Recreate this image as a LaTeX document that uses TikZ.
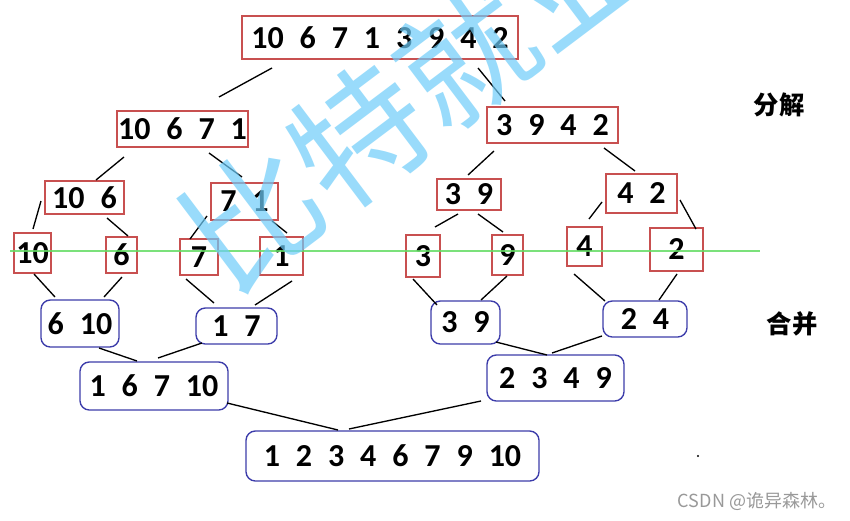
\documentclass[tikz,border=0pt]{standalone}
\usepackage{fontspec}
\usetikzlibrary{calc}

\newfontfamily\numfont{Carlito}[WordSpace=2.2]
\newfontfamily\cjk{Noto Sans CJK SC}

\definecolor{splitred}{RGB}{200,80,80}
\definecolor{mergeblue}{RGB}{60,60,170}
\definecolor{cutgreen}{RGB}{100,220,100}
\definecolor{wmblue}{RGB}{110,205,250}

\begin{document}
\begin{tikzpicture}[x=0.75pt, y=-0.75pt]

		\tikzstyle{split} = [draw=splitred, line width=1pt, inner sep=0pt, font=\numfont\bfseries\fontsize{24}{28}\selectfont]
		\tikzstyle{merge} = [draw=mergeblue, line width=1pt, rounded corners=7pt, inner sep=0pt, font=\numfont\bfseries\fontsize{24}{28}\selectfont]
		\tikzstyle{link} = [line width=1pt]
		\tikzset{wh/.style 2 args={minimum width=#1*0.75pt, minimum height=#2*0.75pt}}

		\path[use as bounding box, fill=white] (0,0) rectangle (850,521);

		% split
		\node[split, wh={276}{43}](s0) at (380,37.5){10 6 7 1 3 9 4 2};
		\node[split, wh={131}{36}](sL) at (182.5,129){10 6 7 1};
		\node[split, wh={131}{36}](sR) at (552.5,125){3 9 4 2};
		\node[split, wh={79}{33}](sLL) at (84.5,197.5){10 6};
		\node[split, wh={67}{37}](sLR) at (244.5,201.5){7 1};
		\node[split, wh={64}{31}](sRL) at (469,194.5){3 9};
		\node[split, wh={71}{39}](sRR) at (641.5,193.5){4 2};

		\node[split, wh={37}{40}](a1) at (32.5,253){10};
		\node[split, wh={31}{36}](a2) at (121.5,255){6};
		\node[split, wh={38}{36}](a3) at (199,257){7};
		\node[split, wh={43}{38}](a4) at (281.5,256){1};
		\node[split, wh={34}{42}](a5) at (423,256){3};
		\node[split, wh={31}{40}](a6) at (507.5,255){9};
		\node[split, wh={35}{39}](a7) at (584.5,246.5){4};
		\node[split, wh={53}{43}](a8) at (676.5,249.5){2};

		% merge
		\node[merge, wh={78}{47}](m1) at (80,323.5){6 10};
		\node[merge, wh={81}{36}](m2) at (236.5,326){1 7};
		\node[merge, wh={69}{43}](m3) at (465.5,322.5){3 9};
		\node[merge, wh={84}{36}](m4) at (645,319){2 4};
		\node[merge, wh={148}{48}](mL) at (154,386){1 6 7 10};
		\node[merge, wh={137}{46}](mR) at (555.5,378){2 3 4 9};
		\node[merge, wh={293}{50}](fin) at (392.5,456){1 2 3 4 6 7 9 10};

		\draw[link] ([shift={(-108,30.5)}]s0.center) -- ([shift={(36.5,-32)}]sL.center);
		\draw[link] ([shift={(98,30.5)}]s0.center) -- ([shift={(-47.5,-24)}]sR.center);
		\draw[link] ([shift={(-58.5,28)}]sL.center) -- ([shift={(11.5,-17.5)}]sLL.center);
		\draw[link] ([shift={(26.5,24)}]sL.center) -- ([shift={(-2.5,-24.5)}]sLR.center);
		\draw[link] ([shift={(-58.5,26)}]sR.center) -- ([shift={(-1,-19.5)}]sRL.center);
		\draw[link] ([shift={(51.5,23)}]sR.center) -- ([shift={(-6.5,-22.5)}]sRR.center);
		\draw[link] ([shift={(-43.5,3.5)}]sLL.center) -- ([shift={(0.5,-24)}]a1.center);
		\draw[link] ([shift={(22.5,20.5)}]sLL.center) -- ([shift={(6.5,-19)}]a2.center);
		\draw[link] ([shift={(-37.5,14.5)}]sLR.center) -- ([shift={(-9,-18)}]a3.center);
		\draw[link] ([shift={(27.5,19.5)}]sLR.center) -- ([shift={(5.5,-23)}]a4.center);
		\draw[link] ([shift={(-11,19.5)}]sRL.center) -- ([shift={(12,-29)}]a5.center);
		\draw[link] ([shift={(9,19.5)}]sRL.center) -- ([shift={(-4.5,-23)}]a6.center);
		\draw[link] ([shift={(-39.5,8.5)}]sRR.center) -- ([shift={(4.5,-27.5)}]a7.center);
		\draw[link] ([shift={(38.5,6.5)}]sRR.center) -- ([shift={(19.5,-20.5)}]a8.center);

		\draw[link] ([shift={(1.5,21)}]a1.center) -- ([shift={(-25,-26.5)}]m1.center);
		\draw[link] ([shift={(0.5,22)}]a2.center) -- ([shift={(24,-26.5)}]m1.center);
		\draw[link] ([shift={(-13,22)}]a3.center) -- ([shift={(-22.5,-23)}]m2.center);
		\draw[link] ([shift={(10.5,25)}]a4.center) -- ([shift={(18.5,-21)}]m2.center);
		\draw[link] ([shift={(-10,23)}]a5.center) -- ([shift={(-28.5,-17.5)}]m3.center);
		\draw[link] ([shift={(-0.5,21)}]a6.center) -- ([shift={(15.5,-22.5)}]m3.center);
		\draw[link] ([shift={(-10.5,27.5)}]a7.center) -- ([shift={(-40,-18)}]m4.center);
		\draw[link] ([shift={(0.5,24.5)}]a8.center) -- ([shift={(14,-19)}]m4.center);
		\draw[link] ([shift={(19,24.5)}]m1.center) -- ([shift={(-17,-25)}]mL.center);
		\draw[link] ([shift={(-34.5,17)}]m2.center) -- ([shift={(4,-28)}]mL.center);
		\draw[link] ([shift={(30.5,19.5)}]m3.center) -- ([shift={(-8.5,-23)}]mR.center);
		\draw[link] ([shift={(-43,17)}]m4.center) -- ([shift={(-3.5,-25)}]mR.center);
		\draw[link] ([shift={(73,17)}]mL.center) -- ([shift={(-54.5,-26)}]fin.center);
		\draw[link] ([shift={(-74.5,23)}]mR.center) -- ([shift={(-43.5,-27)}]fin.center);

		% cut line
		\draw[cutgreen, line width=1.5pt, opacity=0.85] (10,251) -- (760,251);

		\node[font=\cjk\bfseries\fontsize{19}{22}\selectfont](fj) at (779,105){分解};
		\node[font=\cjk\bfseries\fontsize{19}{22}\selectfont](hb) at (792,324){合并};
		\fill (698,456) circle (1.2);

		\begin{scope}
		\clip (0,0) rectangle (850,521);
		\node[rotate=37, text=wmblue, text opacity=0.7, font=\cjk\fontsize{100}{104}\selectfont](wm) at (412,96){比特就业};
		\end{scope}
		\node[text=black!40, font=\cjk\fontsize{13.5}{16}\selectfont](csdn) at (757,501){CSDN @诡异森林。};

  \end{tikzpicture}
\end{document}
